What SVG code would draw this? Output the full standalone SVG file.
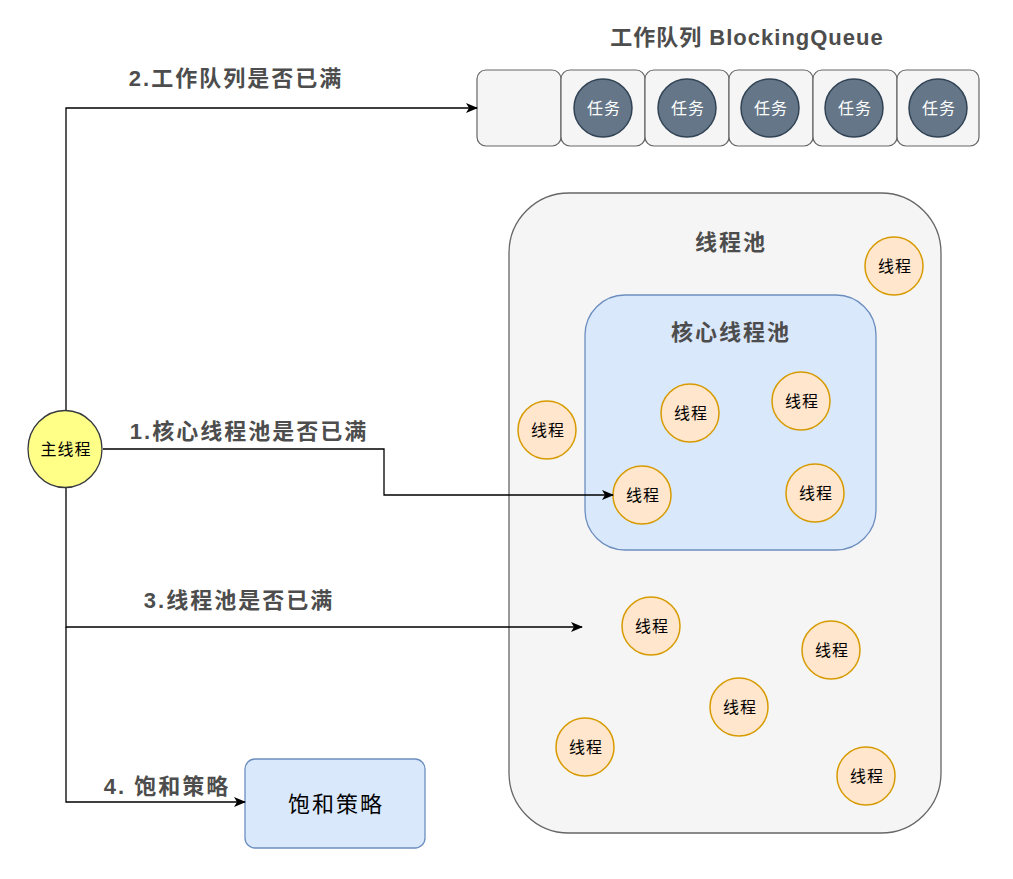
<svg xmlns="http://www.w3.org/2000/svg" width="1013" height="879" viewBox="0 0 1013 879">
<defs>
<style>
.lbl{font-family:"Liberation Sans","Noto Sans CJK SC",sans-serif;font-weight:bold;font-size:22px;letter-spacing:2px;fill:#4d4d4d;text-anchor:middle;dominant-baseline:central}
.t{font-family:"Liberation Sans","Noto Sans CJK SC",sans-serif;font-size:16px;letter-spacing:1px;fill:#000;text-anchor:middle;dominant-baseline:central}
.w{fill:#fff}
.thr{fill:#ffe6cc;stroke:#d79b00;stroke-width:1.5}
.task{fill:#647687;stroke:#314354;stroke-width:1.5}
.qbox{fill:#f5f5f5;stroke:#666;stroke-width:1.2}
.conn{fill:none;stroke:#000;stroke-width:1.3}
</style>
<marker id="arr" markerWidth="12" markerHeight="10" refX="11" refY="5" orient="auto" markerUnits="userSpaceOnUse">
<path d="M0,0 L12,5 L0,10 L3,5 Z" fill="#000"/>
</marker>
</defs>
<rect width="1013" height="879" fill="#fff"/>

<g id="pool">
<rect x="509" y="193" width="432" height="640" rx="60" fill="#f5f5f5" stroke="#666" stroke-width="1.3"/>
<text class="lbl" x="731" y="242">线程池</text>
</g>
<g id="corepool">
<rect x="585" y="295" width="291" height="255" rx="40" fill="#dae8fc" stroke="#6c8ebf" stroke-width="1.3"/>
<text class="lbl" x="731" y="332">核心线程池</text>
</g>

<g id="queue">
<text class="lbl" x="747" y="37" style="letter-spacing:1px">工作队列 BlockingQueue</text>
<rect class="qbox" x="477" y="70" width="84" height="76" rx="9"/>
<rect class="qbox" x="561" y="70" width="84" height="76" rx="9"/>
<rect class="qbox" x="645" y="70" width="84" height="76" rx="9"/>
<rect class="qbox" x="729" y="70" width="84" height="76" rx="9"/>
<rect class="qbox" x="813" y="70" width="84" height="76" rx="9"/>
<rect class="qbox" x="897" y="70" width="82" height="76" rx="9"/>
</g>
<g id="task1"><circle class="task" cx="603" cy="108" r="29"/><text class="t w" x="604" y="108">任务</text></g>
<g id="task2"><circle class="task" cx="687" cy="108" r="29"/><text class="t w" x="688" y="108">任务</text></g>
<g id="task3"><circle class="task" cx="770" cy="108" r="29"/><text class="t w" x="771" y="108">任务</text></g>
<g id="task4"><circle class="task" cx="854" cy="108" r="29"/><text class="t w" x="855" y="108">任务</text></g>
<g id="task5"><circle class="task" cx="938" cy="108" r="29"/><text class="t w" x="939" y="108">任务</text></g>

<g id="th1"><circle class="thr" cx="894" cy="266" r="29"/><text class="t" x="895" y="266">线程</text></g>
<g id="th2"><circle class="thr" cx="547" cy="430" r="29"/><text class="t" x="548" y="430">线程</text></g>
<g id="th3"><circle class="thr" cx="690" cy="413" r="29"/><text class="t" x="691" y="413">线程</text></g>
<g id="th4"><circle class="thr" cx="801" cy="401" r="29"/><text class="t" x="802" y="401">线程</text></g>
<g id="th5"><circle class="thr" cx="642" cy="495" r="29"/><text class="t" x="643" y="495">线程</text></g>
<g id="th6"><circle class="thr" cx="815" cy="493" r="29"/><text class="t" x="816" y="493">线程</text></g>
<g id="th7"><circle class="thr" cx="651" cy="626" r="29"/><text class="t" x="652" y="626">线程</text></g>
<g id="th8"><circle class="thr" cx="831" cy="650" r="29"/><text class="t" x="832" y="650">线程</text></g>
<g id="th9"><circle class="thr" cx="739" cy="707" r="29"/><text class="t" x="740" y="707">线程</text></g>
<g id="th10"><circle class="thr" cx="585" cy="747" r="29"/><text class="t" x="586" y="747">线程</text></g>
<g id="th11"><circle class="thr" cx="866" cy="776" r="29"/><text class="t" x="867" y="776">线程</text></g>

<g id="saturation">
<rect x="245" y="759" width="180" height="89" rx="10" fill="#dae8fc" stroke="#6c8ebf" stroke-width="1.3"/>
<text class="t" x="336" y="804" style="font-size:22px;letter-spacing:2px">饱和策略</text>
</g>

<g id="connectors">
<path class="conn" d="M66,410 V108 H477" marker-end="url(#arr)"/>
<path class="conn" d="M103,449 H384 V495 H613" marker-end="url(#arr)"/>
<path class="conn" d="M66,488 V627 H582" marker-end="url(#arr)"/>
<path class="conn" d="M66,627 V802 H245" marker-end="url(#arr)"/>
<text class="lbl" x="236" y="78">2.工作队列是否已满</text>
<text class="lbl" x="249" y="431">1.核心线程池是否已满</text>
<text class="lbl" x="239" y="600">3.线程池是否已满</text>
<text class="lbl" x="167" y="786">4. 饱和策略</text>
</g>

<g id="main">
<ellipse cx="65" cy="449" rx="37" ry="38.5" fill="#ffff88" stroke="#36393d" stroke-width="1.3"/>
<text class="t" x="66" y="449">主线程</text>
</g>
</svg>
